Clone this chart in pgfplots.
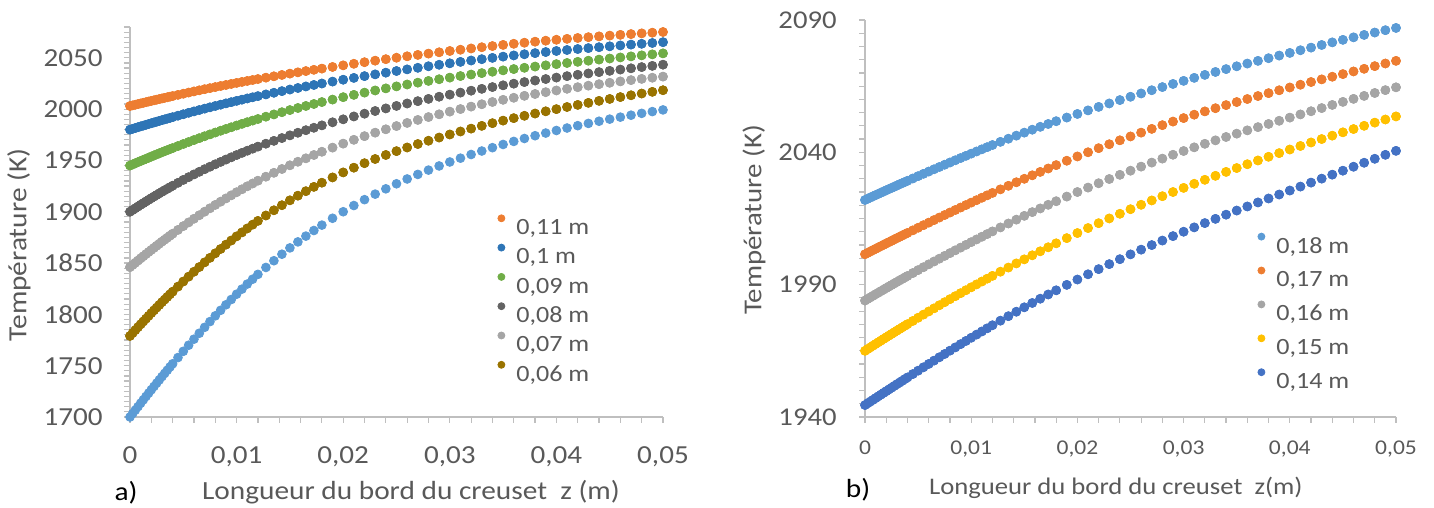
\documentclass[border=0pt]{standalone}
\usepackage{fontspec}
\setmainfont{Carlito}[FakeStretch=1.12]
\usepackage{pgfplots}
\usepackage{pgfplotstable}
\pgfplotsset{compat=1.18}
\definecolor{cOr}{HTML}{ED7D31}
\definecolor{cBl}{HTML}{2E75B6}
\definecolor{cGr}{HTML}{70AD47}
\definecolor{cDk}{HTML}{636363}
\definecolor{cLg}{HTML}{A5A5A5}
\definecolor{cOl}{HTML}{997300}
\definecolor{cLb}{HTML}{5B9BD5}
\definecolor{cYe}{HTML}{FFC000}
\definecolor{cDb}{HTML}{4472C4}
\definecolor{txt}{HTML}{595959}
\definecolor{axc}{HTML}{BFBFBF}

\pgfplotstableread{
x o b g d l v c
0.00000 2003.00 1980.00 1945.00 1900.00 1846.00 1779.00 1700.00
0.00025 2003.63 1980.79 1946.11 1901.69 1848.14 1781.83 1703.36
0.00050 2004.26 1981.58 1947.22 1903.38 1850.28 1784.66 1706.72
0.00075 2004.89 1982.37 1948.33 1905.07 1852.42 1787.49 1710.08
0.00100 2005.52 1983.16 1949.44 1906.76 1854.56 1790.32 1713.44
0.00125 2006.14 1983.93 1950.52 1908.38 1856.63 1793.06 1716.72
0.00150 2006.75 1984.70 1951.60 1910.00 1858.70 1795.80 1720.00
0.00175 2007.37 1985.47 1952.68 1911.62 1860.77 1798.54 1723.28
0.00200 2007.98 1986.24 1953.76 1913.24 1862.84 1801.28 1726.56
0.00225 2008.58 1986.99 1954.81 1914.79 1864.84 1803.93 1729.76
0.00250 2009.18 1987.74 1955.86 1916.34 1866.84 1806.58 1732.96
0.00275 2009.78 1988.49 1956.91 1917.89 1868.84 1809.23 1736.16
0.00300 2010.38 1989.24 1957.96 1919.44 1870.84 1811.88 1739.36
0.00325 2010.97 1989.97 1958.98 1920.92 1872.77 1814.44 1742.48
0.00350 2011.55 1990.70 1960.00 1922.40 1874.70 1817.00 1745.60
0.00375 2012.14 1991.43 1961.02 1923.88 1876.63 1819.56 1748.72
0.00400 2012.72 1992.16 1962.04 1925.36 1878.56 1822.12 1751.84
0.00450 2013.86 1993.58 1964.02 1928.18 1882.28 1827.06 1757.92
0.00500 2015.00 1995.00 1966.00 1931.00 1886.00 1832.00 1764.00
0.00550 2016.11 1996.38 1967.92 1933.68 1889.58 1836.76 1769.92
0.00600 2017.22 1997.76 1969.84 1936.36 1893.16 1841.52 1775.84
0.00650 2018.30 1999.10 1971.70 1938.90 1896.60 1846.10 1781.60
0.00700 2019.38 2000.44 1973.56 1941.44 1900.04 1850.68 1787.36
0.00750 2020.43 2001.74 1975.36 1943.84 1903.34 1855.08 1792.96
0.00800 2021.48 2003.04 1977.16 1946.24 1906.64 1859.48 1798.56
0.00850 2022.50 2004.30 1978.90 1948.54 1909.80 1863.70 1803.94
0.00900 2023.52 2005.56 1980.64 1950.84 1912.96 1867.92 1809.32
0.00950 2024.51 2006.78 1982.32 1953.04 1915.98 1871.96 1814.48
0.01000 2025.50 2008.00 1984.00 1955.24 1919.00 1876.00 1819.64
0.01050 2026.46 2009.18 1985.62 1957.34 1921.88 1879.86 1824.58
0.01100 2027.42 2010.36 1987.24 1959.44 1924.76 1883.72 1829.52
0.01150 2028.35 2011.50 1988.80 1961.44 1927.50 1887.40 1834.24
0.01200 2029.28 2012.64 1990.36 1963.44 1930.24 1891.08 1838.96
0.01275 2030.63 2014.29 1992.61 1966.29 1934.14 1896.33 1845.71
0.01350 2031.96 2015.91 1994.81 1969.07 1937.94 1901.42 1852.26
0.01425 2033.27 2017.50 1996.96 1971.78 1941.64 1906.35 1858.61
0.01500 2034.56 2019.06 1999.06 1974.42 1945.24 1911.12 1864.76
0.01575 2035.82 2020.58 2001.09 1976.96 1948.69 1915.65 1870.61
0.01650 2037.06 2022.06 2003.06 1979.42 1952.04 1920.02 1876.26
0.01725 2038.28 2023.52 2004.99 1981.82 1955.29 1924.23 1881.71
0.01800 2039.48 2024.94 2006.86 1984.14 1958.44 1928.28 1886.96
0.01900 2041.06 2026.80 2009.28 1987.14 1962.48 1933.42 1893.64
0.02000 2042.62 2028.62 2011.62 1990.04 1966.36 1938.30 1900.00
0.02100 2044.16 2030.40 2013.88 1992.84 1970.08 1942.92 1906.04
0.02200 2045.68 2032.14 2016.06 1995.54 1973.64 1947.28 1911.76
0.02300 2047.18 2033.84 2018.16 1998.14 1977.04 1951.38 1917.16
0.02400 2048.64 2035.50 2020.18 2000.66 1980.32 1955.30 1922.32
0.02500 2050.06 2037.12 2022.12 2003.10 1983.48 1959.04 1927.24
0.02600 2051.44 2038.70 2023.98 2005.46 1986.52 1962.60 1931.92
0.02700 2052.78 2040.24 2025.76 2007.74 1989.44 1965.98 1936.36
0.02800 2054.08 2041.74 2027.46 2009.94 1992.24 1969.18 1940.56
0.02900 2055.36 2043.20 2029.10 2012.06 1994.94 1972.28 1944.60
0.03000 2056.62 2044.62 2030.68 2014.10 1997.54 1975.28 1948.48
0.03100 2057.86 2046.00 2032.20 2016.06 2000.04 1978.18 1952.20
0.03200 2059.08 2047.34 2033.66 2017.94 2002.44 1980.98 1955.76
0.03300 2060.28 2048.64 2035.06 2019.74 2004.74 1983.68 1959.16
0.03400 2061.44 2049.90 2036.42 2021.48 2006.94 1986.28 1962.42
0.03500 2062.56 2051.12 2037.74 2023.16 2009.04 1988.78 1965.54
0.03600 2063.64 2052.30 2039.02 2024.78 2011.04 1991.18 1968.52
0.03700 2064.68 2053.44 2040.26 2026.34 2012.94 1993.48 1971.36
0.03800 2065.68 2054.54 2041.46 2027.84 2014.74 1995.68 1974.06
0.03900 2066.64 2055.60 2042.64 2029.30 2016.48 1997.84 1976.66
0.04000 2067.56 2056.62 2043.80 2030.72 2018.16 1999.96 1979.16
0.04100 2068.44 2057.60 2044.94 2032.10 2019.78 2002.04 1981.56
0.04200 2069.28 2058.54 2046.06 2033.44 2021.34 2004.08 1983.86
0.04300 2070.08 2059.44 2047.16 2034.74 2022.84 2006.08 1986.06
0.04400 2070.86 2060.32 2048.24 2036.02 2024.28 2008.02 1988.18
0.04500 2071.62 2061.18 2049.30 2037.28 2025.66 2009.90 1990.22
0.04600 2072.36 2062.02 2050.34 2038.52 2026.98 2011.72 1992.18
0.04700 2073.08 2062.84 2051.36 2039.74 2028.24 2013.48 1994.06
0.04800 2073.78 2063.64 2052.36 2040.94 2029.44 2015.18 1995.86
0.04900 2074.46 2064.42 2053.34 2042.12 2030.58 2016.82 1997.58
0.05000 2075.12 2065.18 2054.30 2043.28 2031.66 2018.40 1999.22
}\tabA

\pgfplotstableread{
x a o g y b
0.00000 2022.00 2001.50 1984.00 1965.00 1944.50
0.00025 2022.46 2002.01 1984.60 1965.65 1945.16
0.00050 2022.92 2002.52 1985.19 1966.29 1945.82
0.00075 2023.38 2003.03 1985.79 1966.94 1946.48
0.00100 2023.84 2003.54 1986.38 1967.58 1947.14
0.00125 2024.30 2004.05 1986.97 1968.22 1947.80
0.00150 2024.75 2004.55 1987.55 1968.85 1948.45
0.00175 2025.21 2005.06 1988.14 1969.49 1949.11
0.00200 2025.66 2005.56 1988.72 1970.12 1949.76
0.00225 2026.11 2006.06 1989.30 1970.75 1950.41
0.00250 2026.56 2006.56 1989.87 1971.37 1951.06
0.00275 2027.01 2007.06 1990.45 1972.00 1951.71
0.00300 2027.46 2007.56 1991.02 1972.62 1952.36
0.00325 2027.91 2008.06 1991.59 1973.24 1953.01
0.00350 2028.35 2008.55 1992.15 1973.85 1953.65
0.00375 2028.80 2009.05 1992.72 1974.47 1954.30
0.00400 2029.24 2009.54 1993.28 1975.08 1954.94
0.00450 2030.12 2010.52 1994.39 1976.29 1956.22
0.00500 2031.00 2011.50 1995.50 1977.50 1957.50
0.00550 2031.87 2012.47 1996.59 1978.69 1958.77
0.00600 2032.74 2013.44 1997.68 1979.88 1960.04
0.00650 2033.60 2014.40 1998.75 1981.05 1961.30
0.00700 2034.46 2015.36 1999.82 1982.22 1962.56
0.00750 2035.31 2016.31 2000.87 1983.37 1963.81
0.00800 2036.16 2017.26 2001.92 1984.52 1965.06
0.00850 2037.00 2018.20 2002.96 1985.65 1966.29
0.00900 2037.84 2019.14 2004.00 1986.78 1967.52
0.00950 2038.67 2020.07 2005.03 1987.89 1968.73
0.01000 2039.50 2021.00 2006.06 1989.00 1969.94
0.01050 2040.32 2021.92 2007.08 1990.09 1971.13
0.01100 2041.14 2022.84 2008.10 1991.18 1972.32
0.01150 2041.95 2023.75 2009.11 1992.25 1973.49
0.01200 2042.76 2024.66 2010.12 1993.32 1974.66
0.01275 2043.96 2026.01 2011.62 1994.90 1976.39
0.01350 2045.14 2027.35 2013.10 1996.46 1978.09
0.01425 2046.30 2028.68 2014.56 1998.02 1979.78
0.01500 2047.44 2030.00 2016.00 1999.56 1981.44
0.01575 2048.55 2031.31 2017.41 2001.09 1983.08
0.01650 2049.64 2032.60 2018.80 2002.61 1984.69
0.01725 2050.71 2033.89 2020.17 2004.12 1986.29
0.01800 2051.76 2035.16 2021.52 2005.62 1987.86
0.01900 2053.14 2036.82 2023.28 2007.58 1989.92
0.02000 2054.50 2038.44 2025.00 2009.50 1991.94
0.02100 2055.84 2040.02 2026.68 2011.38 1993.92
0.02200 2057.16 2041.56 2028.32 2013.22 1995.86
0.02300 2058.46 2043.06 2029.92 2015.02 1997.76
0.02400 2059.74 2044.54 2031.50 2016.78 1999.62
0.02500 2061.00 2046.00 2033.06 2018.50 2001.44
0.02600 2062.24 2047.44 2034.60 2020.18 2003.22
0.02700 2063.46 2048.86 2036.12 2021.82 2004.96
0.02800 2064.66 2050.26 2037.62 2023.42 2006.66
0.02900 2065.84 2051.62 2039.08 2025.00 2008.34
0.03000 2067.00 2052.94 2040.50 2026.56 2010.00
0.03100 2068.14 2054.22 2041.88 2028.10 2011.64
0.03200 2069.26 2055.46 2043.22 2029.62 2013.26
0.03300 2070.36 2056.66 2044.52 2031.12 2014.86
0.03400 2071.44 2057.84 2045.80 2032.60 2016.44
0.03500 2072.50 2059.00 2047.06 2034.06 2018.00
0.03600 2073.54 2060.14 2048.30 2035.50 2019.54
0.03700 2074.56 2061.26 2049.52 2036.92 2021.06
0.03800 2075.56 2062.36 2050.72 2038.32 2022.56
0.03900 2076.56 2063.44 2051.92 2039.70 2024.06
0.04000 2077.56 2064.50 2053.12 2041.06 2025.56
0.04100 2078.56 2065.54 2054.32 2042.40 2027.06
0.04200 2079.56 2066.56 2055.52 2043.72 2028.56
0.04300 2080.56 2067.56 2056.72 2045.02 2030.06
0.04400 2081.54 2068.56 2057.90 2046.30 2031.56
0.04500 2082.50 2069.56 2059.06 2047.56 2033.06
0.04600 2083.44 2070.56 2060.20 2048.80 2034.56
0.04700 2084.36 2071.56 2061.32 2050.02 2036.06
0.04800 2085.26 2072.56 2062.42 2051.22 2037.56
0.04900 2086.14 2073.56 2063.50 2052.40 2039.06
0.05000 2087.00 2074.56 2064.56 2053.56 2040.56
}\tabB

\pgfplotsset{
  exc/.style={
    scale only axis,
    axis lines*=left,
    axis line style={draw=axc, line width=0.8pt},
    tick style={draw=axc, line width=0.6pt},
    tick align=outside,
    xtick pos=left, ytick pos=left,
    major tick length=3pt, minor tick length=3pt,
    xmin=0, xmax=0.05,
    scaled x ticks=false, scaled y ticks=false,
    xtick={0,0.01,0.02,0.03,0.04,0.05},
    xticklabels={0,{0,01},{0,02},{0,03},{0,04},{0,05}},
    minor xtick={0.002,0.004,...,0.0505},
    clip=false,
    ticklabel style={text=txt},
    every axis plot/.append style={only marks, mark=*, mark size=2.2pt},
    legend style={draw=none, fill=none, inner sep=0pt, text=txt,
      nodes={inner sep=0pt, text height=9pt, text depth=0pt},
      column sep=5.7pt},
    legend cell align=left,
    legend image code/.code={\draw[##1, mark size=1.75pt] plot coordinates {(0pt,3.7pt)};},
  }
}

\begin{document}
\begin{tikzpicture}
\useasboundingbox (0,0) rectangle (717pt,254pt);
% ---------- panel a ----------
\begin{axis}[exc,
  at={(65pt,45.5pt)}, anchor=south west,
  width=266.5pt, height=195pt,
  ymin=1700, ymax=2080,
  ytick={1700,1750,1800,1850,1900,1950,2000,2050},
  yticklabels={1700,1750,1800,1850,1900,1950,2000,2050},
  minor ytick={1705,1710,...,2081},
  yticklabel style={font=\fontsize{13}{15}\selectfont, anchor=east, inner sep=0pt, xshift=-10.5pt},
  xticklabel style={font=\fontsize{13}{15}\selectfont, anchor=base, inner sep=0pt, yshift=-20pt},
  legend style={at={(axis description cs:0.6895,0.5195)}, anchor=north west,
    font=\fontsize{11.65}{13}\selectfont, row sep=4.7pt},
]
\addplot[cLb, forget plot] table[x=x, y=c] {\tabA};
\addplot[cOl, forget plot] table[x=x, y=v] {\tabA};
\addplot[cLg, forget plot] table[x=x, y=l] {\tabA};
\addplot[cDk, forget plot] table[x=x, y=d] {\tabA};
\addplot[cGr, forget plot] table[x=x, y=g] {\tabA};
\addplot[cBl, forget plot] table[x=x, y=b] {\tabA};
\addplot[cOr, forget plot] table[x=x, y=o] {\tabA};
\addplot[cOr] table[x=x, y=o] {\tabA};
\addplot[cBl] table[x=x, y=b] {\tabA};
\addplot[cGr] table[x=x, y=g] {\tabA};
\addplot[cDk] table[x=x, y=d] {\tabA};
\addplot[cLg] table[x=x, y=l] {\tabA};
\addplot[cOl] table[x=x, y=v] {\tabA};
\legend{{0,11 m},{0,1 m},{0,09 m},{0,08 m},{0,07 m},{0,06 m}}
\end{axis}
% ---------- panel b ----------
\begin{axis}[exc,
  at={(432.5pt,45.5pt)}, anchor=south west,
  width=265.5pt, height=198.5pt,
  ymin=1940, ymax=2090,
  ytick={1940,1990,2040,2090},
  yticklabels={1940,1990,2040,2090},
  minor ytick={1945,1950,...,2091},
  yticklabel style={font=\fontsize{12.8}{15}\selectfont, anchor=east, inner sep=0pt, xshift=-11pt},
  xticklabel style={font=\fontsize{10.5}{12}\selectfont, anchor=base, inner sep=0pt, yshift=-16pt},
  legend style={at={(axis description cs:0.7392,0.4642)}, anchor=north west,
    font=\fontsize{11.65}{13}\selectfont, row sep=7.0pt},
]
\addplot[cDb, forget plot] table[x=x, y=b] {\tabB};
\addplot[cYe, forget plot] table[x=x, y=y] {\tabB};
\addplot[cLg, forget plot] table[x=x, y=g] {\tabB};
\addplot[cOr, forget plot] table[x=x, y=o] {\tabB};
\addplot[cLb, forget plot] table[x=x, y=a] {\tabB};
\addplot[cLb] table[x=x, y=a] {\tabB};
\addplot[cOr] table[x=x, y=o] {\tabB};
\addplot[cLg] table[x=x, y=g] {\tabB};
\addplot[cYe] table[x=x, y=y] {\tabB};
\addplot[cDb] table[x=x, y=b] {\tabB};
\legend{{0,18 m},{0,17 m},{0,16 m},{0,15 m},{0,14 m}}
\end{axis}
% ---------- axis titles ----------
\node[rotate=90, text=txt, font=\fontsize{13.1}{15}\selectfont] at (9.5pt,131.5pt) {Température (K)};
\node[text=txt, font=\fontsize{13.1}{15}\selectfont] at (205.5pt,8pt) {Longueur du bord du creuset\ \ z (m)};
\node[text=black, font=\fontsize{13.1}{15}\selectfont] at (63pt,7.5pt) {a)};
\node[rotate=90, text=txt, font=\fontsize{12.9}{15}\selectfont] at (377pt,144pt) {Température (K)};
\node[text=txt, font=\fontsize{11.9}{14}\selectfont] at (557.9pt,10pt) {Longueur du bord du creuset\ \ z(m)};
\node[text=black, font=\fontsize{13.1}{15}\selectfont] at (429pt,9pt) {b)};
\end{tikzpicture}
\end{document}
